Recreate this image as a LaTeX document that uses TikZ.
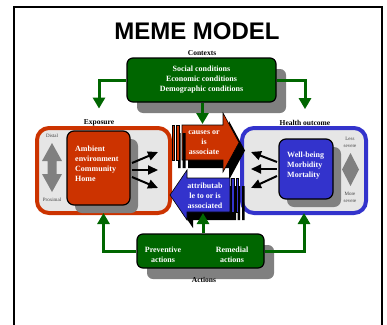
\documentclass[tikz,border=0pt]{standalone}
\usepackage{fontspec}
\setmainfont{Liberation Serif}
\newfontfamily\titlefont{Liberation Sans}
\usepackage{tikz}
\usetikzlibrary{arrows.meta,shadows}
\definecolor{ctxgreen}{RGB}{0,102,0}
\definecolor{expred}{RGB}{204,51,0}
\definecolor{outblue}{RGB}{51,51,204}
\definecolor{panelgray}{RGB}{230,230,230}
\definecolor{shadegray}{RGB}{128,128,128}

\tikzset{
  lbl/.style={font=\bfseries\fontsize{7.5}{9}\selectfont,inner sep=0pt},
  tinylbl/.style={font=\fontsize{5}{7}\selectfont,text=black!75,align=center,inner sep=0pt},
  boxtext/.style={font=\bfseries\fontsize{8}{10}\selectfont,text=white,inner sep=0pt},
  greenbox/.style={rectangle,rounded corners=6pt,draw=black,line width=1.2pt,fill=ctxgreen,
    inner sep=0pt,drop shadow={shadow xshift=10pt,shadow yshift=-11pt,fill=shadegray,opacity=1}},
  panel/.style={rectangle,rounded corners=12pt,line width=4pt,fill=panelgray,inner sep=0pt},
  innerbox/.style={rectangle,rounded corners=7pt,draw=black,line width=1.2pt,inner sep=0pt,
    drop shadow={shadow xshift=8pt,shadow yshift=-8pt,fill=shadegray,opacity=1}},
  bigarrow/.style={draw=black,line width=0.6pt,
    drop shadow={shadow xshift=6pt,shadow yshift=-8pt,fill=black,opacity=1}},
  greenarrow/.style={draw=ctxgreen,line width=3pt,-{Triangle[width=12pt,length=11pt]}},
  blackarrow/.style={draw=black,line width=2pt,-{Triangle[width=9pt,length=10pt]}}
}

\begin{document}
\begin{tikzpicture}[x=1pt,y=-1pt]
\useasboundingbox (0,0) rectangle (387,324);
% outer frame
\draw[line width=2pt] (14,7) rectangle (382,340);

% title
\node[font=\titlefont\bfseries\fontsize{24}{24}\selectfont,inner sep=0pt] (title) at (197,31) {MEME MODEL};

% contexts on top
\node[lbl] (ctxlabel) at (202,53) {Contexts};
\node[greenbox,boxtext,align=center,minimum width=149pt,minimum height=44pt] (ctxbox) at (201.5,80)
  {Social conditions\\Economic conditions\\Demographic conditions};

% exposure panel (drawn over the bottom of its label)
\node[lbl] (explabel) at (99,123) {Exposure};
\node[panel,draw=expred,minimum width=133pt,minimum height=85pt] (exppanel) at (103.5,170.5) {};
\node[tinylbl] (distal) at (52,136) {Distal};
\node[tinylbl] (proximal) at (52,200) {Proximal};
\fill[shadegray] (52,143) -- (62,161) -- (56.5,161) -- (56.5,174) -- (62,174) -- (52,192)
  -- (42,174) -- (47.5,174) -- (47.5,161) -- (42,161) -- cycle;
\node[innerbox,fill=expred,minimum width=63pt,minimum height=74pt] (expbox) at (98.5,168) {};
\node[boxtext,align=left,anchor=north west] (exptext) at (75,146) {Ambient\\environment\\Community\\Home};

% health outcome panel
\node[lbl] (outlabel) at (305,123) {Health outcome};
\node[panel,draw=outblue,minimum width=124pt,minimum height=85pt] (outpanel) at (304,170.5) {};
\node[innerbox,fill=outblue,minimum width=54pt,minimum height=60pt] (outbox) at (306,169) {};
\node[boxtext,align=left,anchor=north west] (outtext) at (287,151.5) {Well-being\\Morbidity\\Mortality};
\node[tinylbl] (less) at (350,142.5) {Less\\severe};
\node[tinylbl] (more) at (350,197.5) {More\\severe};
\fill[shadegray] (350.5,153) -- (359,169.5) -- (350.5,186) -- (342,169.5) -- cycle;

% fan of arrows on both sides
\coordinate (e1s) at (132,163); \coordinate (e1e) at (158,152);
\coordinate (e2s) at (132,170); \coordinate (e2e) at (158,170);
\coordinate (e3s) at (132,177); \coordinate (e3e) at (158,188);
\coordinate (o1s) at (277,162); \coordinate (o1e) at (251,152);
\coordinate (o2s) at (277,169); \coordinate (o2e) at (251,169);
\coordinate (o3s) at (277,176); \coordinate (o3e) at (251,188);
\foreach \a in {e1,e2,e3,o1,o2,o3}
  \draw[blackarrow] (\a s) -- (\a e);

% causal arrows in the middle
\path[bigarrow,fill=expred] (182,125) -- (223,125) -- (223,113) -- (239,142.5) -- (223,172)
  -- (223,160) -- (182,160) -- cycle;
\path[bigarrow,fill=expred] (172,125) rectangle (174.5,160) (176.5,125) rectangle (179.5,160);
\node[boxtext,align=center] (causetext) at (204,143) {causes or\\is\\associate};

\path[bigarrow,fill=outblue] (230,178) -- (187,178) -- (187,170) -- (170,195) -- (187,220)
  -- (187,212) -- (230,212) -- cycle;
\path[bigarrow,fill=outblue] (231.5,178) rectangle (234,212) (236,178) rectangle (238.5,212);
\node[boxtext,align=center] (attrtext) at (205,196) {attributab\\le to or is\\associated};

% actions at the bottom
\node[greenbox,minimum width=127pt,minimum height=34pt] (actbox) at (200.5,251) {};
\node[boxtext,align=center] (prevtext) at (163,254.5) {Preventive\\actions};
\node[boxtext,align=center] (remtext) at (232,255) {Remedial\\actions};
\node[lbl] (actlabel) at (204,280) {Actions};

% green connectors
\coordinate (causetop) at (202.5,124);
\coordinate (attrbottom) at (203,213);
\draw[greenarrow,shorten >=11pt] (ctxbox.west) -| (explabel.north);
\draw[greenarrow,shorten >=11pt] (ctxbox.east) -| (outlabel.north);
\draw[greenarrow] (ctxbox.south -| causetop) -- (causetop);
\draw[greenarrow,shorten >=-2pt] (actbox.west) -| (exppanel.south);
\draw[greenarrow,shorten >=-2pt] (actbox.east) -| (outpanel.south);
\draw[greenarrow] (actbox.north -| attrbottom) -- (attrbottom);

\end{tikzpicture}
\end{document}
